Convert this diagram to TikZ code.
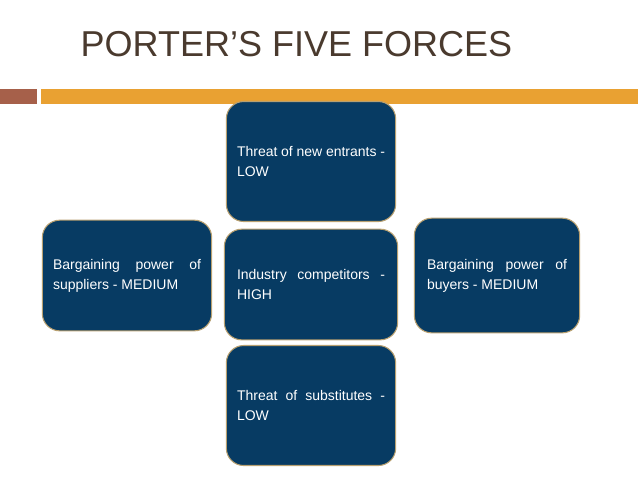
\documentclass[tikz,border=0pt]{standalone}
\usepackage{fontspec}
\setmainfont{Liberation Sans}
\usepackage{xcolor}
\definecolor{navy}{HTML}{073B63}
\definecolor{rim}{HTML}{B8A070}
\definecolor{brownbar}{HTML}{A6604A}
\definecolor{orangebar}{HTML}{E9A132}
\definecolor{titlebrown}{HTML}{4A3A2E}
\tikzset{
    force/.style = {
      rounded corners=13pt,
      fill=navy,
      draw=rim,
      line width=0.8pt,
      text=white,
      font=\fontsize{10.5}{15}\selectfont,
      minimum width=127pt,
      minimum height=87pt,
      text width=111pt,
      align=justify,
    },
}
\begin{document}
\begin{tikzpicture}[x=0.75pt,y=-0.75pt]
    \useasboundingbox (0,0) rectangle (638,479);
    \fill[brownbar] (0,89) rectangle (37,104);
    \fill[orangebar] (41,89) rectangle (638,104);
    \node[anchor=west, text=titlebrown, font=\fontsize{27}{30}\selectfont] (TITLE) at (76,44) {PORTER’S FIVE FORCES};

    \node[force, minimum height=90pt] (NEW) at (311,161.5) {Threat of new entrants - LOW};
    \node[force, minimum width=130pt, minimum height=83pt] (RIVALRY) at (311,284.5) {Industry competitors -HIGH};
    \node[force, minimum height=90pt] (SUBST) at (311,405.5) {Threat of substitutes -LOW};
    \node[force, minimum height=83pt] (SUPPLIERS) at (127,275.5) {Bargaining power of suppliers - MEDIUM};
    \node[force, minimum width=124pt, minimum height=86pt, text width=105pt] (BUYERS) at (497,275.5) {Bargaining power of buyers - MEDIUM};
\end{tikzpicture}
\end{document}
